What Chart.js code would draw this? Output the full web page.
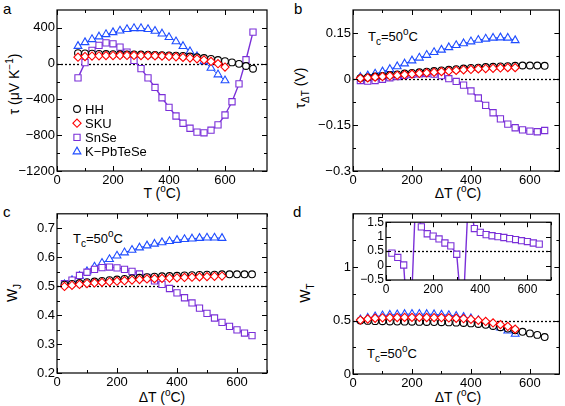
<!DOCTYPE html>
<html>
<head>
<meta charset="utf-8">
<script src="https://cdn.jsdelivr.net/npm/chart.js@4.4.0/dist/chart.umd.min.js"></script>
<style>
  body { margin: 0; background: #fff; width: 565px; height: 406px; position: relative; overflow: hidden;
         font-family: "Liberation Sans", Arial, sans-serif; color: #000; }
  canvas { position: absolute; }
  .t { position: absolute; font-size: 14px; line-height: 1; white-space: nowrap; }
  .t sup { font-size: 10px; vertical-align: 0; position: relative; top: -6px; }
  .t sub { font-size: 10px; vertical-align: 0; position: relative; top: 4px; }
  .rot { transform: translate(-50%, -50%) rotate(-90deg); }
  .ctr { transform: translate(-50%, -50%); }
  .mid { transform: translateY(-50%); }
  .let { font-size: 15px; }
</style>
</head>
<body>
<div class="t let" style="left:3px;top:1px">a</div>
<div class="t let" style="left:294px;top:1px">b</div>
<div class="t let" style="left:3px;top:204px">c</div>
<div class="t let" style="left:293px;top:204px">d</div>

<div class="t rot" style="left:14px;top:84px">τ (μV K<sup>−1</sup>)</div>
<div class="t ctr" style="left:162px;top:193px">T (<sup>o</sup>C)</div>
<div class="t rot" style="left:300px;top:88px">τ<sub>ΔT</sub> (V)</div>
<div class="t ctr" style="left:458px;top:193px">ΔT (<sup>o</sup>C)</div>
<div class="t rot" style="left:12px;top:293px">W<sub>J</sub></div>
<div class="t ctr" style="left:162px;top:397px">ΔT (<sup>o</sup>C)</div>
<div class="t rot" style="left:305px;top:293px">W<sub>T</sub></div>
<div class="t ctr" style="left:458px;top:397px">ΔT (<sup>o</sup>C)</div>

<div class="t mid" style="left:368px;top:36px;font-size:13px">T<sub>c</sub>=50<sup>o</sup>C</div>
<div class="t mid" style="left:73px;top:238px;font-size:13px">T<sub>c</sub>=50<sup>o</sup>C</div>
<div class="t mid" style="left:367px;top:353px;font-size:13px">T<sub>c</sub>=50<sup>o</sup>C</div>

<script>
// temperatures
const tempA = [75, 100, 125, 150, 175, 200, 225, 250, 275, 300, 325, 350, 375, 400, 425, 450, 475, 500, 525, 550, 575, 600, 625, 650, 675, 700];
const dT = [25, 50, 75, 100, 125, 150, 175, 200, 225, 250, 275, 300, 325, 350, 375, 400, 425, 450, 475, 500, 525, 550, 575, 600, 625, 650];

// panel a: tau (uV/K)
const hhA = [118, 115, 112, 110, 108, 106, 105, 104, 103, 102, 100, 98, 96, 93, 90, 86, 80, 72, 63, 53, 41, 28, 14, -2, -26, -56];
const skuA = [72, 80, 85, 88, 90, 91, 92, 92, 92, 91, 90, 88, 85, 81, 76, 70, 63, 54, 42, 25, 0, -38];
const snA = [-159, 11, 148, 204, 232, 222, 185, 130, 37, -56, -159, -266, -381, -488, -585, -666, -722, -766, -773, -744, -685, -574, -426, -226, 44, 352];
const kA = [196, 238, 272, 302, 328, 350, 368, 385, 395, 395, 385, 365, 335, 295, 248, 195, 137, 81, 26, -48, -122, -189];

// panel b: tau_dT (V)
const hhB = [0.003, 0.005, 0.008, 0.010, 0.013, 0.015, 0.018, 0.020, 0.022, 0.024, 0.026, 0.028, 0.030, 0.032, 0.034, 0.036, 0.037, 0.039, 0.040, 0.041, 0.042, 0.043, 0.044, 0.044, 0.044, 0.043];
const skuB = [0.002, 0.004, 0.006, 0.008, 0.010, 0.012, 0.014, 0.016, 0.018, 0.020, 0.022, 0.024, 0.026, 0.028, 0.030, 0.031, 0.033, 0.034, 0.035, 0.036, 0.037, 0.037];
const snB = [-0.005, -0.007, -0.005, -0.001, 0.004, 0.008, 0.012, 0.015, 0.017, 0.018, 0.016, 0.011, 0.001, -0.008, -0.020, -0.039, -0.062, -0.086, -0.110, -0.130, -0.147, -0.159, -0.166, -0.170, -0.172, -0.168];
const kB = [0.006, 0.011, 0.017, 0.024, 0.032, 0.041, 0.050, 0.060, 0.069, 0.078, 0.087, 0.095, 0.103, 0.110, 0.116, 0.122, 0.127, 0.131, 0.134, 0.135, 0.134, 0.126];

// panel c: W_J
const hhC = [0.505, 0.508, 0.511, 0.514, 0.516, 0.518, 0.521, 0.523, 0.525, 0.527, 0.529, 0.531, 0.533, 0.534, 0.535, 0.536, 0.537, 0.538, 0.539, 0.540, 0.540, 0.541, 0.541, 0.541, 0.541, 0.541];
const skuC = [0.499, 0.503, 0.506, 0.509, 0.511, 0.513, 0.515, 0.517, 0.519, 0.521, 0.523, 0.525, 0.526, 0.527, 0.528, 0.529, 0.530, 0.531, 0.532, 0.533, 0.534, 0.535];
const snC = [0.509, 0.521, 0.537, 0.548, 0.558, 0.564, 0.566, 0.563, 0.558, 0.551, 0.542, 0.530, 0.518, 0.506, 0.492, 0.477, 0.460, 0.442, 0.424, 0.406, 0.390, 0.375, 0.361, 0.349, 0.338, 0.329];
const kC = [0.506, 0.520, 0.535, 0.551, 0.567, 0.580, 0.593, 0.605, 0.616, 0.625, 0.633, 0.640, 0.646, 0.651, 0.655, 0.659, 0.662, 0.664, 0.666, 0.667, 0.667, 0.666];

// panel d: W_T (SnSe only in the inset)
const hhD = [0.500, 0.497, 0.495, 0.494, 0.492, 0.491, 0.490, 0.489, 0.488, 0.487, 0.486, 0.485, 0.483, 0.481, 0.478, 0.474, 0.468, 0.460, 0.450, 0.438, 0.425, 0.410, 0.395, 0.380, 0.366, 0.346];
const skuD = [0.505, 0.515, 0.522, 0.526, 0.528, 0.529, 0.530, 0.530, 0.530, 0.529, 0.528, 0.527, 0.525, 0.522, 0.518, 0.512, 0.503, 0.492, 0.478, 0.462, 0.445, 0.420];
const kD = [0.510, 0.525, 0.538, 0.547, 0.553, 0.557, 0.560, 0.561, 0.561, 0.560, 0.558, 0.555, 0.550, 0.543, 0.533, 0.520, 0.503, 0.483, 0.460, 0.433, 0.405, 0.375];
const snD = [0.43, 0.28, 0.02, -3.0, 2.2, 1.34, 1.10, 1.02, 0.92, 0.78, 0.68, 0.39, -2.0, 2.5, 1.28, 1.15, 1.07, 1.03, 1.00, 0.97, 0.93, 0.90, 0.86, 0.83, 0.78, 0.74];

// tick labels and minor ticks
const xTicks = [0, 200, 400, 600];
const xMinor = [100, 300, 500, 700];
const yTicksA = [-1200, -800, -400, 0, 400];
const yMinorA = [-1000, -600, -200, 200];
const yTicksB = [-0.3, -0.15, 0, 0.15];
const yMinorB = [-0.225, -0.075, 0.075];
const yTicksC = [0.2, 0.3, 0.4, 0.5, 0.6, 0.7];
const yMinorC = [0.25, 0.35, 0.45, 0.55, 0.65];
const yTicksD = [0, 0.5, 1];
const yMinorD = [0.25, 0.75, 1.25];
const yTicksIn = [-0.5, 0, 0.5, 1, 1.5];

const names = ["HH", "SKU", "SnSe", "K\u2212PbTeSe"];
const colors = ["#000000", "#ff0000", "#7a2fd8", "#1f4dff"];
const markers = [["circle", 3.4], ["rectRot", 4.1], ["rect", 4.4], ["triangle", 4.5]];
const drawOrder = [2, 1, 3, 4]; // SKU on top, then HH, SnSe, K-PbTeSe
const FONT = '"Liberation Sans", Arial, sans-serif';

const fmt = (v) => String(v).replace("-", "\u2212");

function series(idx, xs, ys) {
  return {
    label: names[idx],
    data: ys.map((v, i) => ({ x: xs[i], y: v })),
    order: drawOrder[idx],
    borderColor: colors[idx],
    backgroundColor: "#fff",
    pointBackgroundColor: "#fff",
    pointBorderColor: colors[idx],
    pointStyle: markers[idx][0],
    pointRadius: markers[idx][1],
    pointBorderWidth: 1.1,
    borderWidth: idx === 2 ? 1.4 : 1,
    tension: 0
  };
}

function deco(p) {
  return {
    id: "deco",
    beforeDatasetsDraw(chart) {
      const { ctx, chartArea: a, scales: { y } } = chart;
      ctx.save();
      if (p.white) {
        ctx.fillStyle = "#fff";
        ctx.fillRect(a.left, a.top, a.right - a.left, a.bottom - a.top);
      }
      const py = Math.round(y.getPixelForValue(p.refY)) + 0.5;
      ctx.strokeStyle = "#000";
      ctx.lineWidth = 1.3;
      ctx.setLineDash([2, 2]);
      ctx.beginPath();
      ctx.moveTo(a.left, py);
      ctx.lineTo(a.right, py);
      ctx.stroke();
      ctx.restore();
    },
    afterDatasetsDraw(chart) {
      const { ctx, chartArea: a, scales: { x, y } } = chart;
      ctx.save();
      ctx.strokeStyle = "#000";
      ctx.lineWidth = 1.2;
      ctx.strokeRect(a.left, a.top, a.right - a.left, a.bottom - a.top);
      ctx.lineWidth = 1;
      const tick = (vals, len, horiz) => {
        vals.forEach((v) => {
          ctx.beginPath();
          if (horiz) {
            const px = Math.round(x.getPixelForValue(v)) + 0.5;
            ctx.moveTo(px, a.bottom); ctx.lineTo(px, a.bottom - len);
            ctx.moveTo(px, a.top); ctx.lineTo(px, a.top + len);
          } else {
            const py = Math.round(y.getPixelForValue(v)) + 0.5;
            ctx.moveTo(a.left, py); ctx.lineTo(a.left + len, py);
            ctx.moveTo(a.right, py); ctx.lineTo(a.right - len, py);
          }
          ctx.stroke();
        });
      };
      tick(p.xMajor, 5, true);
      tick(p.xMinor, 3, true);
      tick(p.yMajor, 5, false);
      tick(p.yMinor, 3, false);
      ctx.restore();
    },
    afterDraw(chart) {
      if (!p.legend) return;
      const { ctx } = chart;
      const L = p.legend;
      ctx.save();
      ctx.font = "13px " + FONT;
      ctx.textBaseline = "middle";
      names.forEach((n, i) => {
        const yy = L.y + i * 14.2;
        ctx.strokeStyle = colors[i];
        ctx.fillStyle = "#fff";
        ctx.lineWidth = 1.1;
        Chart.helpers.drawPoint(ctx, { pointStyle: markers[i][0], radius: markers[i][1], rotation: 0, borderWidth: 1.1 }, L.x, yy);
        ctx.fillStyle = "#000";
        ctx.fillText(n, L.x + 8, yy + 1);
      });
      ctx.restore();
    }
  };
}

function panel(p) {
  const b = p.box, a = p.area;
  const cv = document.createElement("canvas");
  cv.width = b.w;
  cv.height = b.h;
  cv.style.left = b.left + "px";
  cv.style.top = b.top + "px";
  document.body.appendChild(cv);
  const tickFont = { family: FONT, size: p.fontSize || 13 };
  return new Chart(cv, {
    type: "line",
    data: { datasets: p.datasets },
    options: {
      responsive: false,
      animation: false,
      devicePixelRatio: 1,
      events: [],
      layout: { padding: { left: 0, top: a.t - b.top, right: b.left + b.w - a.r, bottom: 0 } },
      plugins: { legend: { display: false }, tooltip: { enabled: false } },
      scales: {
        x: {
          type: "linear", min: p.xr[0], max: p.xr[1],
          grid: { display: false, drawTicks: false }, border: { display: false },
          afterBuildTicks: (s) => { s.ticks = p.xMajor.map((v) => ({ value: v })); },
          afterFit: (s) => { s.height = b.top + b.h - a.b; },
          ticks: { font: tickFont, color: "#000", padding: 2, maxRotation: 0, autoSkip: false, callback: fmt }
        },
        y: {
          type: "linear", min: p.yr[0], max: p.yr[1],
          grid: { display: false, drawTicks: false }, border: { display: false },
          afterBuildTicks: (s) => { s.ticks = p.yMajor.map((v) => ({ value: v })); },
          afterFit: (s) => { s.width = a.l - b.left; },
          ticks: { font: tickFont, color: "#000", padding: 2, autoSkip: false, callback: fmt }
        }
      }
    },
    plugins: [deco(p)]
  });
}

panel({
  box: { left: 0, top: 0, w: 282, h: 202 }, area: { l: 57, t: 10, r: 267, b: 171 },
  xr: [0, 750], yr: [-1200, 600], refY: 0,
  xMajor: xTicks, xMinor: xMinor, yMajor: yTicksA, yMinor: yMinorA,
  legend: { x: 77, y: 109 },
  datasets: [series(0, tempA, hhA), series(1, tempA, skuA), series(2, tempA, snA), series(3, tempA, kA)]
});

panel({
  box: { left: 284, top: 0, w: 281, h: 202 }, area: { l: 353, t: 10, r: 563, b: 171 },
  xr: [0, 700], yr: [-0.3, 0.225], refY: 0,
  xMajor: xTicks, xMinor: xMinor, yMajor: yTicksB, yMinor: yMinorB,
  legend: { x: 373, y: 107 },
  datasets: [series(0, dT, hhB), series(1, dT, skuB), series(2, dT, snB), series(3, dT, kB)]
});

panel({
  box: { left: 0, top: 204, w: 282, h: 202 }, area: { l: 57, t: 213, r: 267, b: 373 },
  xr: [0, 700], yr: [0.2, 0.75], refY: 0.5,
  xMajor: xTicks, xMinor: xMinor, yMajor: yTicksC, yMinor: yMinorC,
  legend: { x: 77, y: 314 },
  datasets: [series(0, dT, hhC), series(1, dT, skuC), series(2, dT, snC), series(3, dT, kC)]
});

panel({
  box: { left: 284, top: 204, w: 281, h: 202 }, area: { l: 353, t: 212, r: 563, b: 374 },
  xr: [0, 700], yr: [0, 1.5], refY: 0.5,
  xMajor: xTicks, xMinor: xMinor, yMajor: yTicksD, yMinor: yMinorD,
  datasets: [series(0, dT, hhD), series(1, dT, skuD), series(3, dT, kD)]
});

// inset of panel d
panel({
  box: { left: 352, top: 213, w: 205, h: 84 }, area: { l: 386, t: 221, r: 551, b: 280 },
  xr: [0, 700], yr: [-0.5, 1.5], refY: 0.5, white: true, fontSize: 12,
  xMajor: xTicks, xMinor: xMinor, yMajor: yTicksIn, yMinor: [],
  datasets: [series(2, dT, snD)]
});
</script>
</body>
</html>
